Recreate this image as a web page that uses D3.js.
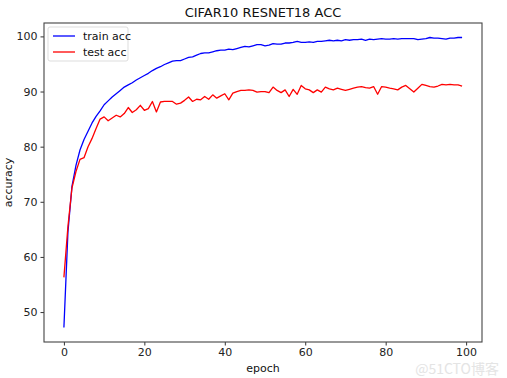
<!DOCTYPE html>
<html>
<head>
<meta charset="utf-8">
<script src="https://cdn.jsdelivr.net/npm/d3@7"></script>
<style>
  body { margin: 0; background: #fff; }
  svg { font-family: "DejaVu Sans", sans-serif; }
</style>
</head>
<body>
<div id="chart"></div>
<script>
// accuracy per epoch
const trainAcc = [47.2, 64.5, 72.8, 76.6, 79.4, 81.3, 82.8, 84.3, 85.5, 86.5,
  87.6, 88.3, 89.0, 89.6, 90.2, 90.8, 91.2, 91.6, 92.1, 92.5,
  92.9, 93.3, 93.8, 94.2, 94.5, 94.9, 95.2, 95.5, 95.6, 95.6,
  95.9, 96.2, 96.3, 96.6, 96.9, 97.0, 97.0, 97.2, 97.4, 97.5,
  97.5, 97.7, 97.6, 97.8, 98.0, 98.2, 98.1, 98.3, 98.5, 98.5,
  98.3, 98.4, 98.7, 98.6, 98.6, 98.8, 98.8, 98.9, 99.1, 98.9,
  98.9, 99.0, 98.9, 99.1, 99.1, 99.2, 99.3, 99.2, 99.3, 99.2,
  99.4, 99.3, 99.4, 99.4, 99.5, 99.3, 99.5, 99.4, 99.5, 99.6,
  99.5, 99.5, 99.6, 99.5, 99.6, 99.6, 99.6, 99.6, 99.4, 99.5,
  99.6, 99.8, 99.7, 99.7, 99.6, 99.5, 99.7, 99.7, 99.8, 99.8];
const testAcc = [56.3, 65.5, 72.5, 75.5, 77.7, 78.0, 80.0, 81.5, 83.3, 85.0,
  85.4, 84.7, 85.2, 85.7, 85.4, 86.0, 87.1, 86.2, 86.7, 87.5,
  86.6, 86.9, 88.2, 86.3, 88.1, 88.2, 88.2, 88.2, 87.7, 87.9,
  88.4, 89.0, 88.2, 88.6, 88.5, 89.1, 88.6, 89.4, 88.8, 89.2,
  89.6, 88.5, 89.7, 90.0, 90.2, 90.2, 90.3, 90.2, 89.9, 90.0,
  90.0, 89.8, 90.8, 90.2, 89.8, 90.3, 89.1, 90.4, 89.5, 91.1,
  90.5, 90.3, 89.8, 90.3, 89.9, 90.8, 90.5, 90.3, 90.6, 90.4,
  90.2, 90.4, 90.6, 90.8, 90.9, 90.7, 90.6, 90.9, 89.5, 90.9,
  90.8, 90.6, 90.5, 90.3, 90.8, 91.1, 90.5, 89.9, 90.6, 91.3,
  91.1, 90.9, 90.8, 91.0, 91.3, 91.2, 91.3, 91.2, 91.2, 91.0];
const xTicks = [0, 20, 40, 60, 80, 100];
const yTicks = [50, 60, 70, 80, 90, 100];
const seriesNames = ["train acc", "test acc"];
const seriesColors = ["#0000ff", "#ff0000"];

const W = 507, H = 378;
const margin = {top: 23, right: 25, bottom: 36, left: 44};
const width = W - margin.left - margin.right;
const height = H - margin.top - margin.bottom;

const svg = d3.select("#chart").append("svg")
    .attr("width", W)
    .attr("height", H);

const g = svg.append("g")
    .attr("transform", `translate(${margin.left},${margin.top})`);

// matplotlib style 5% padding around the data
const n = trainAcc.length;
const xPad = (n - 1) * 0.05;
const all = trainAcc.concat(testAcc);
const yMin = d3.min(all), yMax = d3.max(all);
const yPad = (yMax - yMin) * 0.05;

const x = d3.scaleLinear().domain([-xPad, n - 1 + xPad]).range([0, width]);
const y = d3.scaleLinear().domain([yMin - yPad, yMax + yPad]).range([height, 0]);

const line = d3.line()
    .x((d, i) => x(i))
    .y(d => y(d));

[trainAcc, testAcc].forEach((s, k) => {
    g.append("path")
        .datum(s)
        .attr("fill", "none")
        .attr("stroke", seriesColors[k])
        .attr("stroke-width", 1.3)
        .attr("stroke-linejoin", "round")
        .attr("d", line);
});

// axes
const xAxis = g.append("g")
    .attr("transform", `translate(0,${height})`)
    .call(d3.axisBottom(x).tickValues(xTicks).tickSize(3.5).tickPadding(3));
const yAxis = g.append("g")
    .call(d3.axisLeft(y).tickValues(yTicks).tickSize(3.5).tickPadding(3));

[xAxis, yAxis].forEach(a => {
    a.select(".domain").remove();
    a.selectAll("text").attr("font-size", 11).attr("fill", "#222")
        .attr("font-family", "DejaVu Sans");
    a.selectAll("line").attr("stroke", "#333");
});

// frame
g.append("rect")
    .attr("width", width)
    .attr("height", height)
    .attr("fill", "none")
    .attr("stroke", "#444")
    .attr("stroke-width", 1.1);

// title and labels
svg.append("text")
    .attr("x", margin.left + width / 2)
    .attr("y", 17)
    .attr("text-anchor", "middle")
    .attr("font-size", 13)
    .attr("fill", "#111")
    .text("CIFAR10 RESNET18 ACC");

svg.append("text")
    .attr("x", margin.left + width / 2)
    .attr("y", H - 6)
    .attr("text-anchor", "middle")
    .attr("font-size", 11)
    .attr("fill", "#111")
    .text("epoch");

svg.append("text")
    .attr("transform", `translate(12,${margin.top + height / 2}) rotate(-90)`)
    .attr("text-anchor", "middle")
    .attr("font-size", 11)
    .attr("fill", "#111")
    .text("accuracy");

// legend
const legend = g.append("g").attr("transform", "translate(4,4)");
legend.append("rect")
    .attr("width", 80)
    .attr("height", 34)
    .attr("rx", 2)
    .attr("fill", "#fff")
    .attr("fill-opacity", 0.8)
    .attr("stroke", "#ddd");

const items = legend.selectAll(".item")
    .data(seriesNames)
    .enter().append("g")
    .attr("class", "item")
    .attr("transform", (d, i) => `translate(0,${9 + i * 16})`);

items.append("line")
    .attr("x1", 5).attr("x2", 27)
    .attr("stroke", (d, i) => seriesColors[i])
    .attr("stroke-width", 1.3);

items.append("text")
    .attr("x", 35)
    .attr("dy", "0.35em")
    .attr("font-size", 11)
    .attr("fill", "#111")
    .text(d => d);

// faint watermark, kept below the tick labels
svg.append("text")
    .attr("x", W - 8)
    .attr("y", H - 4)
    .attr("text-anchor", "end")
    .attr("font-size", 14)
    .attr("font-family", "'Noto Sans CJK SC', sans-serif")
    .attr("fill", "#e4e4e4")
    .text("@51CTO博客");
</script>
</body>
</html>
